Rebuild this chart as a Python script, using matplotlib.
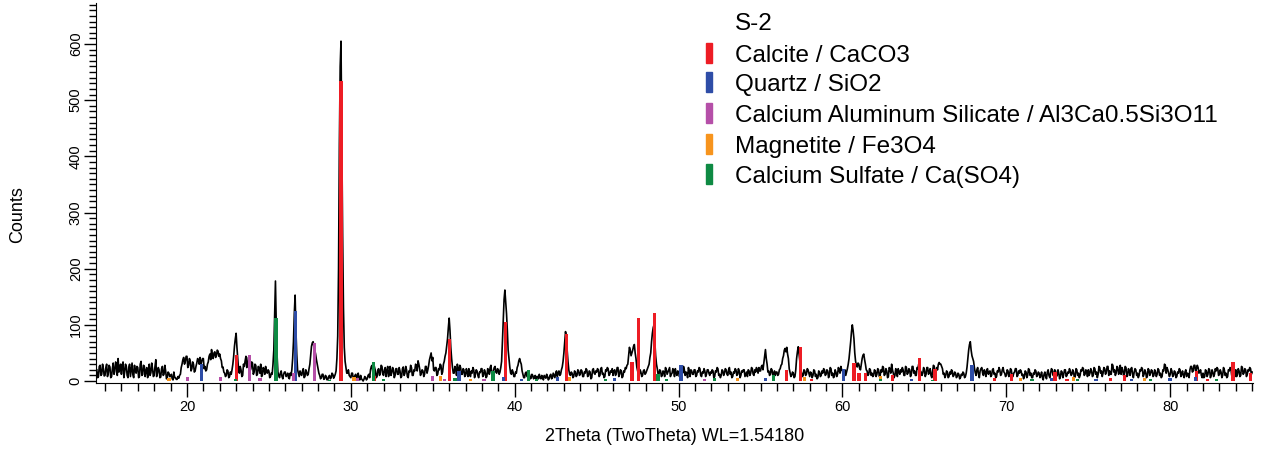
import numpy as np
import matplotlib
matplotlib.use('Agg')
import matplotlib.pyplot as plt
from matplotlib.ticker import MultipleLocator
from matplotlib.patches import Rectangle

plt.rcParams['font.family'] = ['Liberation Sans', 'DejaVu Sans']

# measured counts, one row per degree of 2theta (first row 14.5-15, then 15-16, ...)
counts_by_degree = [
    [20, 6, 8, 26, 28, 10, 12, 30, 22, 9],
    [10, 24, 30, 8, 14, 28, 25, 6, 8, 22, 32, 12, 18, 34, 27, 10, 40, 16, 20, 30],
    [12, 28, 34, 6, 16, 30, 26, 10, 6, 24, 30, 8, 20, 32, 11, 6, 28, 18, 14, 26],
    [24, 6, 8, 30, 35, 10, 12, 28, 26, 8, 18, 24, 6, 14, 30, 10, 15, 32, 22, 8],
    [10, 26, 38, 8, 14, 24, 20, 6, 7, 22, 26, 10, 12, 28, 18, 4, 6, 16, 14, 8],
    [8, 12, 4, 2, 16, 6, 6, 3, 3, 8, 5, 10, 12, 24, 30, 38, 42, 30, 35, 44],
    [44, 24, 28, 40, 36, 18, 22, 34, 30, 16, 18, 26, 32, 40, 38, 30, 42, 28, 35, 40],
    [40, 22, 26, 18, 20, 30, 34, 44, 48, 38, 56, 46, 40, 50, 52, 42, 45, 55, 53, 44],
    [48, 40, 36, 24, 25, 16, 14, 8, 10, 20, 18, 6, 8, 16, 12, 20, 30, 44, 62, 75],
    [85, 60, 40, 20, 14, 26, 20, 8, 10, 30, 26, 36, 44, 24, 30, 42, 40, 18, 22, 34],
    [32, 12, 16, 30, 28, 10, 12, 26, 24, 14, 30, 8, 10, 24, 22, 12, 26, 16, 14, 20],
    [18, 6, 8, 14, 12, 30, 55, 120, 178, 100, 45, 16, 10, 6, 14, 18, 8, 4, 12, 16],
    [16, 8, 10, 14, 6, 4, 14, 10, 20, 40, 70, 120, 153, 90, 48, 20, 14, 8, 18, 12],
    [10, 18, 22, 6, 8, 20, 16, 10, 12, 22, 30, 45, 62, 68, 70, 60, 55, 48, 38, 30],
    [22, 14, 10, 4, 6, 12, 12, 3, 4, 10, 8, 2, 3, 8, 10, 4, 6, 14, 12, 5],
    [8, 12, 18, 40, 80, 200, 420, 560, 605, 420, 260, 130, 60, 35, 24, 14, 14, 20, 10, 8],
    [6, 14, 14, 4, 4, 10, 12, 6, 8, 14, 5, 2, 10, 4, 2, 0, 3, 8, 6, 2],
    [4, 10, 12, 6, 20, 26, 28, 14, 30, 24, 18, 6, 8, 20, 22, 10, 14, 28, 26, 12],
    [10, 20, 24, 8, 18, 26, 8, 14, 26, 10, 15, 24, 20, 6, 10, 22, 22, 12, 12, 24],
    [18, 6, 8, 22, 25, 10, 14, 26, 20, 8, 6, 18, 16, 28, 24, 10, 10, 20, 18, 30],
    [28, 18, 36, 30, 22, 10, 14, 20, 18, 8, 12, 26, 26, 14, 20, 28, 38, 44, 50, 36],
    [42, 20, 18, 24, 24, 10, 12, 22, 20, 30, 28, 12, 16, 30, 35, 44, 50, 62, 75, 95],
    [112, 90, 60, 40, 25, 14, 14, 26, 22, 10, 30, 20, 18, 28, 24, 12, 12, 22, 20, 8],
    [10, 22, 16, 8, 22, 12, 8, 18, 14, 24, 20, 6, 12, 20, 18, 10, 6, 16, 15, 22],
    [22, 8, 10, 20, 16, 6, 8, 22, 20, 12, 24, 28, 12, 10, 18, 24, 26, 16, 14, 22],
    [20, 12, 16, 24, 35, 70, 110, 145, 162, 140, 120, 90, 55, 40, 25, 14, 12, 20, 16, 8],
    [8, 16, 14, 24, 28, 36, 40, 34, 30, 18, 12, 6, 6, 14, 16, 8, 8, 12, 12, 4],
    [5, 12, 10, 4, 6, 10, 3, 8, 8, 4, 12, 6, 4, 10, 7, 2, 10, 8, 5, 12],
    [8, 2, 4, 10, 12, 4, 6, 14, 10, 6, 14, 18, 8, 14, 18, 10, 12, 20, 25, 35],
    [50, 70, 88, 80, 55, 35, 20, 12, 10, 16, 14, 6, 8, 18, 16, 8, 10, 20, 18, 10],
    [12, 20, 18, 8, 8, 16, 14, 22, 20, 8, 10, 18, 16, 4, 6, 20, 22, 14, 12, 18],
    [16, 22, 20, 8, 10, 22, 24, 12, 14, 6, 8, 20, 18, 24, 22, 10, 12, 18, 16, 22],
    [10, 18, 20, 10, 14, 24, 24, 8, 12, 20, 18, 6, 8, 18, 16, 24, 22, 28, 30, 45],
    [60, 55, 45, 50, 55, 62, 65, 50, 40, 25, 18, 12, 12, 20, 16, 8, 10, 18, 20, 12],
    [14, 18, 22, 26, 30, 42, 50, 70, 85, 95, 100, 70, 45, 30, 22, 12, 12, 20, 18, 8],
    [10, 18, 16, 8, 24, 20, 12, 16, 20, 24, 8, 12, 14, 22, 18, 8, 22, 14, 10, 18],
    [16, 8, 12, 22, 20, 14, 26, 20, 10, 16, 14, 6, 24, 18, 8, 20, 18, 12, 12, 20],
    [20, 8, 10, 18, 16, 24, 22, 10, 8, 16, 14, 22, 18, 8, 12, 20, 20, 14, 10, 16],
    [14, 20, 18, 6, 8, 18, 16, 24, 22, 10, 12, 6, 10, 20, 18, 10, 14, 22, 20, 12],
    [10, 20, 24, 12, 16, 6, 8, 16, 14, 22, 20, 10, 12, 22, 18, 6, 10, 18, 16, 20],
    [20, 8, 12, 16, 8, 20, 18, 10, 14, 24, 22, 12, 10, 20, 16, 24, 20, 14, 24, 18],
    [18, 26, 28, 20, 32, 45, 56, 40, 30, 16, 18, 10, 12, 22, 20, 10, 14, 18, 10, 16],
    [16, 10, 12, 20, 22, 28, 30, 40, 45, 55, 58, 52, 60, 48, 40, 22, 15, 8, 10, 16],
    [14, 6, 8, 20, 40, 52, 61, 48, 35, 20, 15, 8, 10, 20, 18, 10, 12, 22, 20, 14],
    [8, 16, 14, 6, 10, 20, 18, 8, 12, 4, 6, 18, 16, 8, 10, 18, 14, 22, 20, 10],
    [12, 20, 18, 6, 10, 24, 22, 10, 14, 6, 8, 20, 16, 8, 12, 24, 20, 14, 26, 20],
    [18, 10, 14, 20, 10, 16, 22, 30, 40, 55, 70, 88, 100, 90, 75, 50, 35, 28, 25, 32],
    [30, 22, 20, 30, 40, 46, 48, 38, 30, 20, 18, 10, 12, 22, 20, 10, 14, 8, 10, 20],
    [18, 8, 12, 22, 20, 8, 10, 20, 16, 26, 24, 10, 12, 22, 18, 6, 8, 24, 22, 14],
    [30, 20, 14, 6, 10, 22, 18, 8, 22, 16, 12, 20, 16, 24, 20, 10, 10, 26, 24, 12],
    [14, 22, 20, 8, 12, 26, 26, 14, 18, 10, 10, 24, 22, 30, 30, 18, 16, 10, 14, 24],
    [20, 8, 12, 24, 24, 12, 16, 22, 10, 6, 18, 28, 26, 12, 14, 24, 20, 30, 33, 30],
    [30, 26, 22, 12, 14, 6, 10, 18, 16, 6, 8, 16, 12, 20, 18, 8, 10, 16, 14, 6],
    [8, 14, 12, 4, 6, 12, 10, 16, 14, 6, 8, 14, 25, 40, 55, 65, 70, 55, 45, 40],
    [35, 24, 15, 10, 20, 24, 12, 6, 18, 22, 24, 14, 10, 20, 16, 8, 20, 22, 12, 16],
    [18, 8, 10, 20, 22, 12, 14, 6, 8, 18, 16, 24, 20, 10, 12, 20, 24, 16, 14, 8],
    [10, 20, 18, 8, 12, 22, 20, 10, 8, 14, 16, 22, 22, 8, 10, 18, 14, 20, 18, 10],
    [12, 4, 8, 18, 16, 6, 10, 22, 20, 10, 14, 6, 6, 14, 12, 20, 18, 8, 10, 16],
    [14, 6, 10, 16, 6, 2, 12, 16, 8, 4, 16, 20, 10, 6, 14, 22, 20, 10, 12, 20],
    [18, 8, 10, 20, 14, 4, 8, 18, 16, 6, 12, 20, 20, 8, 10, 16, 14, 22, 18, 10],
    [12, 20, 16, 6, 8, 22, 20, 10, 14, 6, 10, 20, 18, 24, 22, 10, 12, 20, 16, 8],
    [20, 10, 14, 22, 18, 8, 10, 24, 22, 12, 16, 6, 12, 26, 24, 14, 18, 8, 14, 24],
    [22, 12, 16, 26, 26, 10, 18, 12, 12, 30, 28, 16, 20, 10, 14, 26, 24, 12, 16, 28],
    [12, 24, 20, 10, 14, 26, 24, 8, 10, 22, 18, 10, 22, 24, 12, 6, 16, 22, 20, 10],
    [14, 6, 10, 20, 18, 24, 22, 8, 12, 20, 16, 6, 8, 22, 20, 10, 14, 20, 18, 8],
    [10, 20, 16, 8, 12, 22, 20, 10, 14, 6, 8, 20, 18, 30, 28, 14, 24, 20, 14, 8],
    [12, 22, 18, 8, 10, 18, 16, 6, 8, 16, 14, 22, 20, 8, 12, 18, 10, 6, 16, 20],
    [8, 14, 12, 6, 20, 26, 26, 16, 18, 28, 28, 18, 22, 28, 24, 14, 16, 20, 10, 6],
    [14, 6, 8, 20, 18, 8, 12, 22, 20, 6, 10, 20, 16, 8, 12, 22, 18, 24, 22, 10],
    [12, 20, 16, 6, 10, 24, 20, 10, 14, 6, 8, 20, 18, 24, 22, 10, 12, 20, 16, 8],
    [20, 8, 12, 22, 18, 8, 10, 26, 24, 12, 14, 22, 20, 8, 12, 20, 18, 24, 22, 12],
]
last_point = (85.0, 16)

two_theta, counts = [], []
for k, row in enumerate(counts_by_degree):
    start = 14.5 if k == 0 else 14 + k
    two_theta.extend(np.linspace(start, 15 + k, len(row), endpoint=False))
    counts.extend(row)
two_theta.append(last_point[0])
counts.append(last_point[1])

# reference patterns (position, height)
calcite_pos = [23.03, 29.4, 31.45, 36.0, 39.42, 43.18, 47.15, 47.55, 48.52, 56.6, 57.45,
               58.1, 60.7, 61.0, 61.42, 63.05, 64.7, 65.65, 69.27, 70.32, 72.97, 73.7,
               76.34, 77.22, 81.6, 82.26, 83.83, 84.88]
calcite_h = [46, 535, 9, 75, 105, 83, 34, 113, 122, 19, 60,
             3, 32, 14, 15, 10, 41, 21, 6, 12, 16, 4,
             5, 11, 17, 3, 33, 14]
quartz_pos = [20.9, 26.62, 36.6, 39.3, 40.4, 42.6, 46.1, 50.15, 55.3, 60.05, 64.2,
              67.9, 72.77, 75.47, 77.64, 79.98, 81.55]
quartz_h = [30, 125, 17, 8, 4, 7, 6, 28, 5, 21, 3,
            28, 5, 3, 3, 5, 8]
cas_pos = [20.04, 22.05, 23.82, 24.45, 26.52, 27.8, 30.41, 34.98, 35.73, 38.13, 51.59]
cas_h = [8, 8, 47, 6, 14, 67, 5, 9, 4, 3, 3]
magnetite_pos = [18.9, 30.2, 35.49, 37.32, 43.35, 53.58, 57.7, 62.3, 70.85, 74.09, 78.44]
magnetite_h = [5, 8, 9, 4, 7, 5, 7, 9, 5, 7, 5]
sulfate_pos = [22.97, 25.43, 28.68, 31.38, 32.01, 36.36, 38.68, 40.85, 41.34, 45.53,
               48.74, 49.25, 52.2, 55.81, 62.32, 65.5, 71.57, 74.33, 78.78, 82.81]
sulfate_h = [4, 112, 2, 34, 3, 5, 18, 20, 4, 3,
             12, 3, 6, 11, 4, 2, 3, 4, 3, 3]

phases = [
    ('Calcite / CaCO3', calcite_pos, calcite_h, '#ed1c24'),
    ('Quartz / SiO2', quartz_pos, quartz_h, '#2e4da7'),
    ('Calcium Aluminum Silicate / Al3Ca0.5Si3O11', cas_pos, cas_h, '#b54fa8'),
    ('Magnetite / Fe3O4', magnetite_pos, magnetite_h, '#f7941d'),
    ('Calcium Sulfate / Ca(SO4)', sulfate_pos, sulfate_h, '#0e8a43'),
]

W, H = 1261, 450
fig = plt.figure(figsize=(W / 100, H / 100), dpi=100)
ax = fig.add_axes([96 / W, 67 / H, (1253 - 96) / W, (447 - 67) / H])

ax.plot(two_theta, counts, color='black', lw=1.2, zorder=2)
for name, pos, h, col in phases:
    ax.bar(pos, h, width=0.2, color=col, zorder=3)

ax.set_xlim(14.45, 85.05)
ax.set_ylim(-3.5, 673)
for s in ['top', 'right']:
    ax.spines[s].set_visible(False)

ax.xaxis.set_major_locator(MultipleLocator(10))
ax.xaxis.set_minor_locator(MultipleLocator(1))
ax.yaxis.set_major_locator(MultipleLocator(100))
ax.yaxis.set_minor_locator(MultipleLocator(10))
ax.tick_params(axis='x', which='major', length=10, width=1, pad=2, labelsize=10.5)
ax.tick_params(axis='x', which='minor', length=6, width=1)
ax.tick_params(axis='y', which='major', length=9, width=1, pad=0.5, labelsize=10.5)
ax.tick_params(axis='y', which='minor', length=5, width=1)
for lab in ax.get_yticklabels():
    lab.set_rotation(90)
    lab.set_va('center')

ax.set_xlabel('2Theta (TwoTheta) WL=1.54180', fontsize=13, labelpad=10)
fig.text(18 / W, 1 - 215 / H, 'Counts', rotation=90, fontsize=13, ha='center', va='center')

# legend
x_txt, x_mark = 735, 706
baselines = [30, 61.5, 91.5, 122, 152.5, 183]
fig.text(x_txt / W, 1 - baselines[0] / H, 'S-2', fontsize=17.5, va='baseline')
for (name, pos, h, col), b in zip(phases, baselines[1:]):
    fig.text(x_txt / W, 1 - b / H, name, fontsize=17.5, va='baseline')
    fig.add_artist(Rectangle((x_mark / W, 1 - (b + 1) / H), 6 / W, 20 / H,
                             transform=fig.transFigure, color=col))

fig.savefig('out.png', dpi=100)
